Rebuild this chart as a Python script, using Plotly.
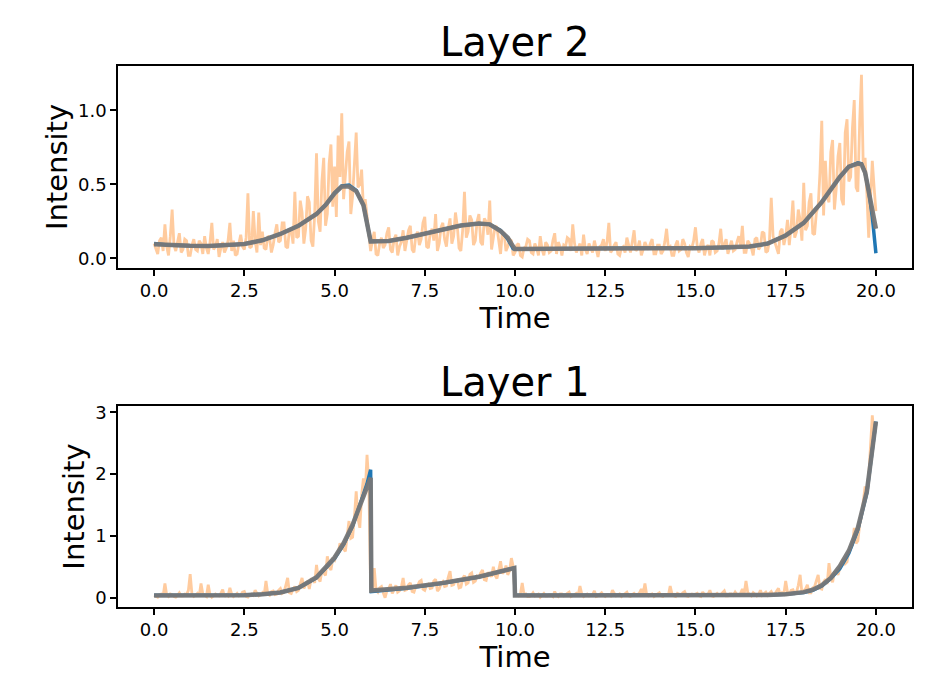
import plotly.graph_objects as go

# sample grid of the noisy observations (every 0.05 time units)
t_obs = [round(i * 0.05, 2) for i in range(401)]

# Layer 2 - noisy observation, one row per time unit
layer2_obs = [
    0.10, 0.06, 0.03, 0.12, 0.14, 0.05, 0.23, 0.08, 0.02, 0.15, 0.33, 0.09, 0.05, 0.11, 0.17, 0.04, 0.06, 0.13, 0.12, 0.02,
    0.02, 0.09, 0.13, 0.06, 0.05, 0.12, 0.10, 0.03, 0.15, 0.07, 0.03, 0.11, 0.24, 0.06, 0.08, 0.13, 0.01, 0.07, 0.11, 0.04,
    0.07, 0.12, 0.24, 0.05, 0.12, 0.02, 0.03, 0.10, 0.16, 0.08, 0.06, 0.14, 0.44, 0.07, 0.08, 0.32, 0.12, 0.04, 0.31, 0.09,
    0.18, 0.07, 0.06, 0.15, 0.14, 0.04, 0.09, 0.17, 0.23, 0.11, 0.12, 0.24, 0.24, 0.08, 0.07, 0.20, 0.19, 0.10, 0.45, 0.14,
    0.15, 0.39, 0.31, 0.10, 0.20, 0.42, 0.38, 0.12, 0.08, 0.30, 0.71, 0.25, 0.18, 0.52, 0.68, 0.22, 0.30, 0.64, 0.77, 0.35,
    0.62, 0.28, 0.83, 0.55, 0.98, 0.40, 0.55, 0.72, 0.79, 0.30, 0.42, 0.66, 0.85, 0.48, 0.50, 0.60, 0.34, 0.40, 0.28, 0.15,
    0.05, 0.12, 0.18, 0.03, 0.02, 0.10, 0.14, 0.07, 0.09, 0.17, 0.21, 0.06, 0.04, 0.13, 0.16, 0.02, 0.08, 0.11, 0.19, 0.05,
    0.11, 0.19, 0.22, 0.06, 0.04, 0.15, 0.18, 0.09, 0.13, 0.24, 0.28, 0.08, 0.07, 0.17, 0.20, 0.12, 0.30, 0.05, 0.10, 0.21,
    0.24, 0.13, 0.08, 0.20, 0.27, 0.10, 0.15, 0.31, 0.22, 0.07, 0.05, 0.19, 0.45, 0.14, 0.18, 0.29, 0.26, 0.09, 0.12, 0.25,
    0.30, 0.11, 0.09, 0.27, 0.25, 0.16, 0.39, 0.06, 0.14, 0.22, 0.21, 0.10, 0.03, 0.18, 0.17, 0.05, 0.08, 0.13, 0.12, 0.02,
    0.04, 0.09, 0.10, 0.02, 0.01, 0.07, 0.08, 0.13, 0.12, 0.04, 0.03, 0.10, 0.07, 0.02, 0.15, 0.06, 0.02, 0.11, 0.09, 0.04,
    0.05, 0.12, 0.17, 0.03, 0.11, 0.08, 0.02, 0.09, 0.08, 0.14, 0.13, 0.05, 0.23, 0.10, 0.04, 0.07, 0.10, 0.02, 0.16, 0.06,
    0.03, 0.10, 0.07, 0.04, 0.12, 0.06, 0.01, 0.08, 0.09, 0.13, 0.05, 0.11, 0.24, 0.04, 0.06, 0.09, 0.11, 0.03, 0.02, 0.07,
    0.08, 0.04, 0.14, 0.09, 0.04, 0.11, 0.19, 0.05, 0.07, 0.12, 0.02, 0.06, 0.11, 0.08, 0.06, 0.10, 0.13, 0.03, 0.03, 0.09,
    0.09, 0.03, 0.05, 0.11, 0.20, 0.07, 0.08, 0.02, 0.02, 0.09, 0.12, 0.05, 0.06, 0.13, 0.10, 0.04, 0.01, 0.08, 0.07, 0.12,
    0.21, 0.08, 0.04, 0.10, 0.13, 0.02, 0.07, 0.09, 0.02, 0.12, 0.11, 0.04, 0.05, 0.10, 0.20, 0.06, 0.09, 0.13, 0.03, 0.08,
    0.12, 0.05, 0.06, 0.11, 0.15, 0.09, 0.22, 0.04, 0.04, 0.12, 0.10, 0.07, 0.02, 0.13, 0.14, 0.06, 0.08, 0.18, 0.17, 0.04,
    0.05, 0.12, 0.41, 0.15, 0.11, 0.06, 0.03, 0.18, 0.20, 0.09, 0.15, 0.26, 0.09, 0.22, 0.39, 0.14, 0.18, 0.33, 0.26, 0.12,
    0.51, 0.19, 0.22, 0.38, 0.44, 0.17, 0.16, 0.31, 0.35, 0.58, 0.93, 0.29, 0.66, 0.41, 0.38, 0.72, 0.80, 0.33, 0.47, 0.69,
    0.78, 0.40, 0.36, 0.85, 0.94, 0.52, 0.55, 0.88, 1.07, 0.48, 0.45, 0.92, 1.24, 0.60, 0.68, 0.44, 0.14, 0.40, 0.66, 0.48,
    0.32,
]

# Layer 1 - noisy observation, one row per time unit
layer1_obs = [
    0.04, 0.02, 0.01, 0.05, 0.06, 0.03, 0.23, 0.04, 0.02, 0.06, 0.05, 0.02, 0.01, 0.04, 0.08, 0.03, 0.03, 0.06, 0.05, 0.12,
    0.38, 0.05, 0.02, 0.04, 0.07, 0.03, 0.23, 0.06, 0.04, 0.02, 0.21, 0.05, 0.01, 0.03, 0.06, 0.04, 0.03, 0.07, 0.13, 0.02,
    0.05, 0.03, 0.16, 0.06, 0.02, 0.04, 0.07, 0.03, 0.04, 0.09, 0.10, 0.02, 0.01, 0.05, 0.06, 0.04, 0.12, 0.07, 0.03, 0.05,
    0.08, 0.04, 0.27, 0.06, 0.04, 0.10, 0.11, 0.05, 0.06, 0.12, 0.15, 0.07, 0.09, 0.20, 0.32, 0.08, 0.07, 0.14, 0.18, 0.10,
    0.12, 0.22, 0.32, 0.15, 0.20, 0.27, 0.14, 0.30, 0.30, 0.24, 0.53, 0.31, 0.26, 0.44, 0.40, 0.36, 0.67, 0.49, 0.45, 0.62,
    0.60, 0.70, 0.72, 0.88, 0.81, 0.79, 0.75, 1.02, 1.24, 0.96, 0.98, 1.30, 1.72, 1.28, 1.13, 1.65, 1.93, 1.70, 2.31, 1.85,
    0.15, 0.10, 0.48, 0.12, 0.09, 0.16, 0.18, 0.08, 0.00, 0.11, 0.14, 0.22, 0.07, 0.13, 0.20, 0.09, 0.11, 0.17, 0.32, 0.12,
    0.13, 0.21, 0.24, 0.10, 0.09, 0.18, 0.19, 0.26, 0.28, 0.14, 0.12, 0.20, 0.22, 0.15, 0.16, 0.27, 0.30, 0.11, 0.14, 0.23,
    0.26, 0.18, 0.19, 0.33, 0.43, 0.20, 0.21, 0.28, 0.29, 0.16, 0.17, 0.31, 0.36, 0.22, 0.24, 0.38, 0.40, 0.25, 0.27, 0.35,
    0.33, 0.40, 0.45, 0.29, 0.28, 0.41, 0.38, 0.34, 0.50, 0.36, 0.31, 0.47, 0.59, 0.39, 0.42, 0.52, 0.37, 0.44, 0.64, 0.50,
    0.05, 0.04, 0.03, 0.06, 0.24, 0.05, 0.06, 0.02, 0.02, 0.04, 0.08, 0.03, 0.04, 0.06, 0.01, 0.05, 0.07, 0.03, 0.03, 0.05,
    0.05, 0.02, 0.10, 0.04, 0.02, 0.06, 0.06, 0.03, 0.04, 0.07, 0.09, 0.02, 0.03, 0.05, 0.07, 0.04, 0.19, 0.06, 0.02, 0.04,
    0.06, 0.03, 0.04, 0.05, 0.11, 0.02, 0.03, 0.06, 0.08, 0.04, 0.02, 0.05, 0.05, 0.03, 0.12, 0.07, 0.03, 0.04, 0.06, 0.02,
    0.04, 0.06, 0.09, 0.03, 0.02, 0.05, 0.07, 0.04, 0.05, 0.08, 0.14, 0.06, 0.23, 0.04, 0.03, 0.05, 0.06, 0.02, 0.04, 0.07,
    0.08, 0.03, 0.02, 0.05, 0.05, 0.04, 0.19, 0.06, 0.03, 0.02, 0.07, 0.05, 0.04, 0.08, 0.10, 0.03, 0.02, 0.05, 0.06, 0.04,
    0.05, 0.07, 0.03, 0.02, 0.09, 0.05, 0.04, 0.06, 0.12, 0.03, 0.02, 0.05, 0.07, 0.04, 0.05, 0.08, 0.11, 0.03, 0.03, 0.06,
    0.06, 0.04, 0.09, 0.05, 0.04, 0.07, 0.14, 0.06, 0.27, 0.08, 0.05, 0.03, 0.08, 0.06, 0.03, 0.05, 0.12, 0.04, 0.06, 0.09,
    0.04, 0.07, 0.10, 0.05, 0.06, 0.11, 0.15, 0.04, 0.08, 0.06, 0.27, 0.09, 0.05, 0.12, 0.13, 0.07, 0.09, 0.20, 0.37, 0.08,
    0.11, 0.14, 0.21, 0.08, 0.08, 0.16, 0.18, 0.29, 0.37, 0.15, 0.14, 0.25, 0.30, 0.22, 0.56, 0.33, 0.25, 0.41, 0.42, 0.37,
    0.50, 0.58, 0.63, 0.55, 0.58, 0.76, 0.80, 0.85, 1.13, 0.88, 0.92, 1.18, 1.30, 1.52, 1.80, 1.68, 1.95, 2.45, 2.95, 2.60,
    2.80,
]

# Layer 2 - true intensity (blue) and estimate (gray)
t2 = [0, 0.5, 1, 1.5, 2, 2.5, 3, 3.5, 4, 4.5, 4.75, 5, 5.2, 5.4, 5.6, 5.8,
      6.0, 6.5, 7, 7.5, 8, 8.5, 9, 9.3, 9.6, 9.8, 9.95, 10.0, 11, 12, 13,
      14, 15, 16, 16.5, 17, 17.5, 18, 18.5, 19, 19.25, 19.5, 19.6, 19.7,
      19.8, 19.9, 20.0]
layer2_true = [0.10, 0.088, 0.085, 0.083, 0.088, 0.098, 0.122, 0.165, 0.22,
               0.30, 0.36, 0.44, 0.49, 0.495, 0.46, 0.36, 0.115, 0.118, 0.14,
               0.168, 0.198, 0.222, 0.236, 0.23, 0.19, 0.13, 0.065, 0.062,
               0.065, 0.068, 0.068, 0.068, 0.069, 0.073, 0.08, 0.10, 0.155,
               0.24, 0.38, 0.55, 0.62, 0.645, 0.64, 0.58, 0.46, 0.28, 0.035]
layer2_est = [0.095, 0.088, 0.085, 0.083, 0.088, 0.098, 0.122, 0.165, 0.22,
              0.30, 0.36, 0.44, 0.485, 0.485, 0.455, 0.36, 0.115, 0.118,
              0.14, 0.168, 0.198, 0.222, 0.236, 0.23, 0.185, 0.14, 0.08,
              0.063, 0.065, 0.068, 0.068, 0.068, 0.069, 0.073, 0.08, 0.10,
              0.155, 0.24, 0.38, 0.55, 0.62, 0.64, 0.635, 0.58, 0.46, 0.31,
              0.20]

# Layer 1 - true intensity (blue) and estimate (gray)
t1 = [0, 1, 2, 2.5, 3, 3.5, 4, 4.5, 5, 5.25, 5.5, 5.75, 5.9, 6.0, 6.02, 7,
      8, 9, 9.98, 10.0, 11, 12, 13, 14, 15, 16, 17, 17.5, 18, 18.25, 18.5,
      18.75, 19, 19.25, 19.5, 19.75, 20]
layer1_true = [0.04, 0.04, 0.04, 0.043, 0.055, 0.085, 0.16, 0.32, 0.63, 0.86,
               1.16, 1.56, 1.84, 2.07, 0.10, 0.155, 0.235, 0.335, 0.48, 0.04,
               0.04, 0.04, 0.04, 0.04, 0.04, 0.04, 0.045, 0.055, 0.085, 0.12,
               0.19, 0.31, 0.47, 0.72, 1.10, 1.70, 2.85]
layer1_est = [0.035, 0.035, 0.037, 0.042, 0.055, 0.085, 0.16, 0.33, 0.65,
              0.88, 1.18, 1.58, 1.82, 1.94, 0.115, 0.16, 0.24, 0.34, 0.48,
              0.035, 0.035, 0.035, 0.035, 0.035, 0.035, 0.037, 0.045, 0.055,
              0.09, 0.13, 0.20, 0.32, 0.51, 0.76, 1.13, 1.72, 2.85]

x_ticks = [0, 2.5, 5, 7.5, 10, 12.5, 15, 17.5, 20]

FONT = "DejaVu Sans"
BLUE = "#1f77b4"
ORANGE = "#ff7f0e"
GRAY = "#787878"

fig = go.Figure()

panels = [
    ("x", "y", t2, layer2_obs, layer2_true, layer2_est),
    ("x2", "y2", t1, layer1_obs, layer1_true, layer1_est),
]
for xa, ya, tt, obs, true, est in panels:
    fig.add_trace(go.Scatter(x=t_obs, y=obs, mode="lines", xaxis=xa, yaxis=ya,
                             line=dict(color=ORANGE, width=2.8), opacity=0.4))
    fig.add_trace(go.Scatter(x=tt, y=true, mode="lines", xaxis=xa, yaxis=ya,
                             line=dict(color=BLUE, width=3.5)))
    fig.add_trace(go.Scatter(x=tt, y=est, mode="lines", xaxis=xa, yaxis=ya,
                             line=dict(color=GRAY, width=4.5), opacity=0.95))

axis_style = dict(
    showline=True, mirror=True, linecolor="black", linewidth=1.5,
    ticks="outside", ticklen=6, tickwidth=1.5, tickcolor="black",
    showgrid=False, zeroline=False, automargin=False,
    tickfont=dict(family=FONT, size=18, color="black"),
)

top_dom = [0.6266, 1.0]
bot_dom = [0.0, 0.3715]

# the page body adds ~8px, so margins are trimmed on the left/top
fig.update_layout(
    width=934, height=700,
    margin=dict(l=110, r=30, t=58, b=101),
    plot_bgcolor="white", paper_bgcolor="white",
    showlegend=False,
    font=dict(family=FONT, color="black"),
    xaxis=dict(domain=[0, 1], anchor="y", range=[-1, 21], tickvals=x_ticks,
               tickformat=".1f",
               title=dict(text="Time", font=dict(size=29), standoff=4),
               **axis_style),
    yaxis=dict(domain=top_dom, anchor="x", range=[-0.065, 1.30],
               tickvals=[0, 0.5, 1.0], tickformat=".1f",
               title=dict(text="Intensity", font=dict(size=29), standoff=2),
               **axis_style),
    xaxis2=dict(domain=[0, 1], anchor="y2", range=[-1, 21], tickvals=x_ticks,
                tickformat=".1f",
                title=dict(text="Time", font=dict(size=29), standoff=4),
                **axis_style),
    yaxis2=dict(domain=bot_dom, anchor="x2", range=[-0.15, 3.10],
                tickvals=[0, 1, 2, 3], tickformat="d",
                title=dict(text="Intensity", font=dict(size=29), standoff=2),
                **axis_style),
    annotations=[
        dict(text="Layer 2", x=0.5, y=top_dom[1], xref="paper", yref="paper",
             xanchor="center", yanchor="bottom", yshift=-1, showarrow=False,
             font=dict(size=40)),
        dict(text="Layer 1", x=0.5, y=bot_dom[1], xref="paper", yref="paper",
             xanchor="center", yanchor="bottom", yshift=-1, showarrow=False,
             font=dict(size=40)),
    ],
)

fig.write_html("out.html")
